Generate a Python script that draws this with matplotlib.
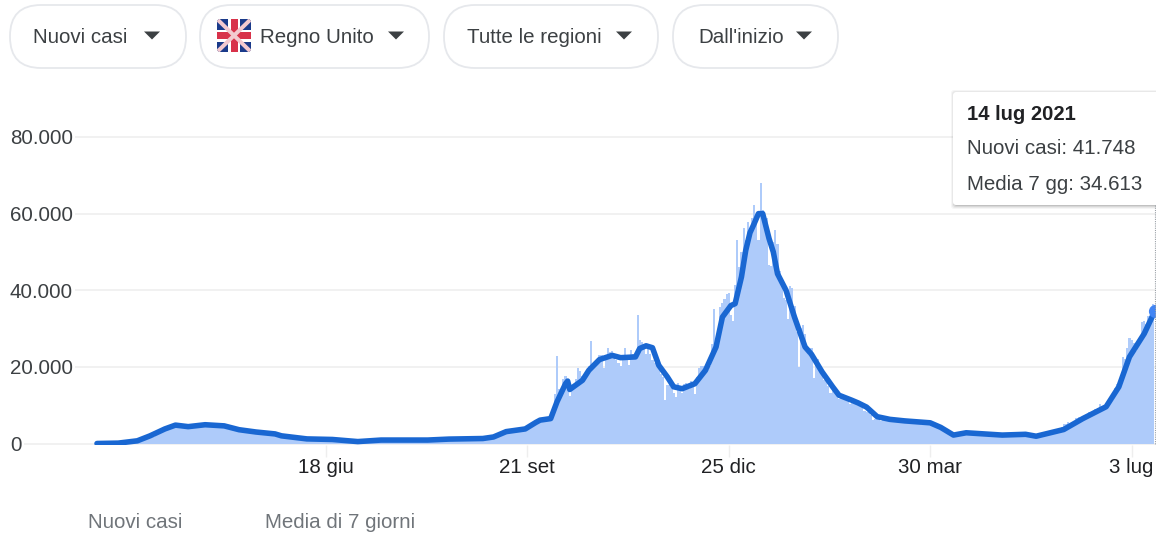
import numpy as np
import matplotlib
matplotlib.use("Agg")
import matplotlib.pyplot as plt
from matplotlib.patches import FancyBboxPatch, Polygon, Rectangle

plt.rcParams['font.family'] = ['Liberation Sans', 'DejaVu Sans']

# ---- data (days since 2 Mar 2020) ----
early_days = list(range(0, 192, 4))
early_cases = [0.04,0.05,0.1,0.25,0.6,1.0,1.8,2.9,3.9,4.7,4.6,4.3,4.7,5.0,4.8,4.7,4.2,3.6,3.2,3.0,
               2.7,2.4,1.9,1.7,1.4,1.2,1.1,1.05,1.0,.85,.6,.45,.55,.8,.9,.9,.85,.85,.9,.95,
               1.05,1.15,1.1,1.05,1.2,1.3,1.5,1.9]
daily_days = list(range(192, 499))
daily_cases = [2.9,3.1,3.0,2.9,3.3,3.4,3.5,3.7,
    3.9,3.8,3.9,4.2,4.4,4.9,5.6,5.9,6.1,6.2,
    6.7,6.9,6.2,5.8,6.8,7.2,12.8,22.9,14.2,12.6,
    16.9,17.6,14.0,12.4,15.2,15.1,16.9,19.8,18.9,17.5,
    18.0,18.2,20.3,26.7,21.0,20.9,21.5,23.0,23.0,19.8,
    22.5,24.9,23.8,24.2,23.0,21.9,20.9,20.2,22.8,24.9,
    23.2,20.5,24.5,23.3,22.0,33.5,27.0,26.5,25.1,23.4,
    24.9,23.4,21.9,21.0,20.2,20.5,18.1,17.4,11.3,15.2,
    15.2,14.7,13.3,12.2,15.7,14.6,13.2,15.5,15.7,14.3,
    16.2,15.7,12.9,17.3,19.8,20.2,20.1,18.3,19.3,20.1,
    25.9,35.2,26.8,27.5,35.6,36.7,37.8,39.1,39.3,33.6,
    32.0,41.4,53.0,46.0,50.1,56.2,53.0,57.8,55.0,58.8,
    62.2,59.0,53.0,68.0,60.9,57.7,58.8,46.6,46.2,52.6,
    55.7,52.0,45.0,43.0,38.0,37.5,32.5,41.0,40.5,36.0,
    29.0,20.0,30.2,31.0,28.5,25.0,23.0,24.8,17.1,21.0,
    22.0,19.5,18.0,16.5,17.0,15.0,13.2,15.3,13.5,12.5,
    11.5,12.5,12.8,12.0,11.0,10.2,10.9,11.6,11.0,10.3,
    9.8,9.6,8.5,8.3,8.6,7.4,6.2,6.4,6.9,6.3,
    5.9,6.1,6.6,6.5,5.6,5.5,6.0,5.8,5.6,5.9,
    5.5,5.8,5.7,5.2,5.3,5.9,5.8,5.6,5.7,4.8,
    5.1,5.5,5.6,5.6,4.9,4.6,4.8,4.4,4.1,3.6,
    3.5,3.2,2.9,2.5,2.6,2.2,2.6,3.0,2.8,3.0,
    2.8,2.7,2.8,2.9,2.5,2.4,2.5,2.4,2.6,2.5,
    2.3,2.3,2.4,2.5,2.2,2.0,2.1,2.3,2.4,2.3,
    2.5,2.6,2.3,2.2,2.3,2.4,2.5,2.6,2.7,2.4,
    1.9,1.8,2.0,1.9,2.2,2.5,2.7,2.8,3.0,3.1,
    3.4,3.5,3.3,3.8,4.0,4.4,5.0,5.2,5.5,4.8,
    5.3,6.0,6.6,6.9,7.0,6.9,7.3,7.6,8.1,7.7,
    8.6,9.0,9.3,10.4,9.8,9.7,10.2,11.0,11.2,11.3,
    14.4,15.6,16.2,18.0,22.6,22.0,24.9,27.6,26.9,26.3,
    24.2,25.2,27.4,31.8,32.1,31.2,33.2,35.0,36.4]

avg_days = [0,10,19,25,32,37,43,51,60,67,75,84,87,99,111,123,134,156,166,182,187,193,202,207,
    209,214,217,221,222,223,229,232,237,243,247,254,256,259,262,265,269,272,276,282,287,292,295,299,
    301,304,306,308,310,312,314,317,319,321,325,329,334,337,342,347,350,356,359,363,368,374,381,393,
    398,404,410,427,438,443,456,465,476,482,487,494,499]
avg_cases = [0.0,0.1,0.7,2.0,3.8,4.8,4.4,4.9,4.6,3.6,3.0,2.5,2.0,1.2,1.05,0.5,0.9,0.9,1.15,1.3,1.7,3.1,3.8,5.5,
    6.1,6.5,10.9,15.6,16.3,14.1,16.5,19.1,21.9,23.0,22.4,22.6,24.8,25.5,25.0,20.4,17.4,14.8,14.3,15.6,19.1,25.2,33.0,36.0,
    36.5,43.5,50.4,55.0,57.4,60.0,60.0,53.5,50.0,44.3,40.0,33.0,25.2,23.3,18.7,14.8,12.6,11.3,10.6,9.5,7.0,6.3,5.9,5.4,
    4.2,2.2,2.8,2.2,2.4,1.9,3.65,6.5,9.6,14.8,22.6,28.7,34.6]
y_ticks = [0, 20000, 40000, 60000, 80000]
y_labels = ['0', '20.000', '40.000', '60.000', '80.000']
x_ticks = [108, 203, 298, 393, 488]
x_labels = ['18 giu', '21 set', '25 dic', '30 mar', '3 lug']
filters = ['Nuovi casi', 'Regno Unito', 'Tutte le regioni', "Dall'inizio"]
legend_labels = ['Nuovi casi', 'Media di 7 giorni']
tooltip_lines = ['14 lug 2021', 'Nuovi casi: 41.748', 'Media 7 gg: 34.613']

W, H = 1156, 536
FS = 14.75
fig = plt.figure(figsize=(W/100, H/100), dpi=100, facecolor='white')

# main chart axes: px x 10..1156, y 90..444.5
PX_PER_DAY, X0 = 2.12, 97.0
PER_PX = 80000 / 306.5
ax = fig.add_axes([10/W, (H-444.5)/H, (W-10)/W, (444.5-90)/H])
ax.set_xlim((10-X0)/PX_PER_DAY, (W-X0)/PX_PER_DAY)
ax.set_ylim(-1.0*PER_PX, (443.5-90)*PER_PX)
for s in ax.spines.values():
    s.set_visible(False)
ax.set_axisbelow(True)
ax.yaxis.grid(True, color='#f1f1f1', lw=1.4)

days = np.array(early_days + daily_days, float)
cases = np.array(early_cases + daily_cases) * 1000
widths = np.array([4.0]*len(early_days) + [1.0]*len(daily_days))
ax.bar(days + np.where(widths > 1, 1.5, 0), cases, width=widths, color='#aecbfa', linewidth=0)

avg_y = np.array(avg_cases) * 1000
ax.plot(avg_days, avg_y, color='#1967d2', lw=4.0, solid_joinstyle='round', solid_capstyle='round', zorder=3)
ax.plot([avg_days[-1]], [avg_y[-1]], 'o', ms=9.5, color='#4285f4', mew=0, zorder=4, clip_on=False)

ax.set_yticks(y_ticks, y_labels)
ax.set_xticks(x_ticks, x_labels)
ax.tick_params(axis='y', length=0, pad=0, labelsize=FS, labelcolor='#3c4043')
ax.tick_params(axis='x', length=8.6, width=1, color='#eeeeee', pad=1, labelsize=FS, labelcolor='#202124')
for lab in ax.get_yticklabels():
    lab.set_ha('left')
    lab.set_x(0)
    lab.set_transform(ax.get_yaxis_transform())
    lab.set_bbox(dict(facecolor='white', edgecolor='none', pad=1.5))
ax.get_xticklabels()[-1].set_clip_on(False)

# overlay in pixel coordinates for the page furniture
ov = fig.add_axes([0, 0, 1, 1], facecolor='none', zorder=10)
ov.set_xlim(0, W); ov.set_ylim(H, 0); ov.axis('off')

# dotted cursor line
ov.plot([W-1.2, W-1.2], [205, 444], color='#9aa0a6', lw=0.8, ls=(0, (1, 1)))

# filter pills
pills = [(10, 186, 33, 152), (200, 429, 260, 396), (444, 658, 467, 624), (673, 838, 698, 804)]
for (x0, x1, tx, ar), label in zip(pills, filters):
    ov.add_patch(FancyBboxPatch((x0+31, 5+31), x1-x0-62, 1, boxstyle='round,pad=31,rounding_size=31',
                                fc='white', ec='#e6e8ec', lw=1.3))
    ov.text(tx, 37.5, label, fontsize=FS, color='#3c4043', va='center', ha='left')
    ov.add_patch(Polygon([(ar-8, 31.5), (ar+8, 31.5), (ar, 39.5)], closed=True, fc='#3c4043', ec='none'))

# flag
fx0, fx1, fy0, fy1 = 217, 251, 19, 52
clip = FancyBboxPatch((fx0+3, fy0+3), fx1-fx0-6, fy1-fy0-6, boxstyle='round,pad=3,rounding_size=3',
                      fc='#1a3a8a', ec='none', transform=ov.transData)
ov.add_patch(clip)
for pts, col, lw in [([(fx0, fy0), (fx1, fy1)], '#f3c9cf', 4.0), ([(fx0, fy1), (fx1, fy0)], '#f3c9cf', 4.0)]:
    l, = ov.plot(*zip(*pts), color=col, lw=lw*0.72, solid_capstyle='butt')
    l.set_clip_path(clip)
cx, cy = (fx0+fx1)/2, (fy0+fy1)/2
ov.add_patch(Rectangle((cx-6, fy0), 12, fy1-fy0, fc='white', ec='none'))
ov.add_patch(Rectangle((fx0, cy-6), fx1-fx0, 12, fc='white', ec='none'))
ov.add_patch(Rectangle((cx-3.5, fy0), 7, fy1-fy0, fc='#d8324a', ec='none'))
ov.add_patch(Rectangle((fx0, cy-3.5), fx1-fx0, 7, fc='#d8324a', ec='none'))

# tooltip
for grow, a in [(4, 0.04), (3, 0.05), (2, 0.07), (1, 0.1)]:
    ov.add_patch(FancyBboxPatch((953-grow+2, 92-grow+2), 220, 113+2*grow-2,
                                boxstyle='round,pad=0,rounding_size=3', fc='black', ec='none', alpha=a))
ov.add_patch(FancyBboxPatch((953, 92), 220, 113, boxstyle='round,pad=0,rounding_size=3', fc='white', ec='none'))
ov.text(967, 114.5, tooltip_lines[0], fontsize=14.6, fontweight='bold', color='#202124', va='center')
ov.text(967, 148.5, tooltip_lines[1], fontsize=FS, color='#3c4043', va='center')
ov.text(967, 184.5, tooltip_lines[2], fontsize=FS, color='#3c4043', va='center')

# legend captions
ov.text(88, 522.5, legend_labels[0], fontsize=FS, color='#70757a', va='center')
ov.text(265, 522.5, legend_labels[1], fontsize=FS, color='#70757a', va='center')

fig.savefig('out.png', dpi=100)
